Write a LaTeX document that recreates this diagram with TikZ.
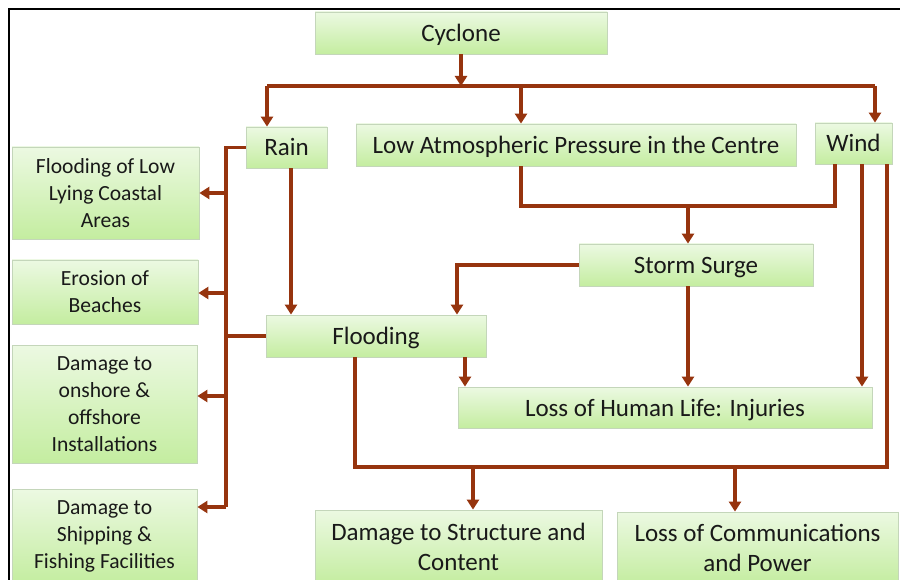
\documentclass[tikz,border=0pt]{standalone}
\usepackage{fontspec}
\setmainfont{Carlito}
\usetikzlibrary{arrows.meta}
\definecolor{arrowred}{RGB}{150,52,14}
\definecolor{boxtop}{RGB}{236,249,226}
\definecolor{boxbot}{RGB}{196,237,160}
\definecolor{boxline}{RGB}{196,214,186}
\definecolor{inkc}{RGB}{25,25,25}
\begin{document}
\begin{tikzpicture}[x=1pt,y=-1pt,
  box/.style={draw=boxline,line width=0.8pt,top color=boxtop,bottom color=boxbot,
    inner sep=0pt,align=center,text=inkc,font=\fontsize{25}{30}\selectfont},
  onebox/.style={box,text height=17pt,text depth=0pt},
  sidebox/.style={box,font=\fontsize{21.6}{27}\selectfont},
  ln/.style={draw=arrowred,line width=3.6pt},
  arr/.style={ln,-{Triangle[length=10pt,width=12pt]}}]
\useasboundingbox (0,0) rectangle (900,580);
\fill[white] (0,0) rectangle (900,580);
% frame
\draw[line width=1.8pt] (9,580) -- (9,9) -- (900,9);

% boxes
\node[onebox,minimum width=292,minimum height=42] (cyc) at (461,33) {Cyclone};
\node[onebox,minimum width=81,minimum height=41] (rain) at (286.5,147.5) {Rain};
\node[onebox,minimum width=440,minimum height=42] (lap) at (576,145) {Low Atmospheric Pressure in the Centre};
\node[onebox,minimum width=77,minimum height=41] (wind) at (853.5,143.5) {Wind};
\node[sidebox,minimum width=187,minimum height=92] (f1) at (105.5,193) {Flooding of Low\\Lying Coastal\\Areas};
\node[sidebox,minimum width=186,minimum height=64] (f2) at (105,292) {Erosion of\\Beaches};
\node[sidebox,minimum width=185,minimum height=118] (f3) at (104.5,404) {Damage to\\onshore \&\\offshore\\Installations};
\node[sidebox,minimum width=185,minimum height=94] (f4) at (104.5,536) {Damage to\\Shipping \&\\Fishing Facilities};
\node[onebox,minimum width=220,minimum height=42] (flood) at (376,336) {Flooding};
\node[onebox,minimum width=234,minimum height=42] (surge) at (696,265) {Storm Surge};
\node[onebox,minimum width=414,minimum height=41] (life) at (665,407.5) {Loss of Human Life: Injuries};
\node[box,minimum width=287,minimum height=74] (dsc) at (458.5,547) {Damage to Structure and\\Content};
\node[box,minimum width=281,minimum height=72] (lcp) at (757.5,548) {Loss of Communications\\and Power};

% junction points
\coordinate (bl) at (267,86);
\coordinate (bc) at (521,86);
\coordinate (br) at (875,86);
\coordinate (lx) at (226,507);
\coordinate (a1) at (226,193);
\coordinate (a2) at (226,293);
\coordinate (a3) at (226,396);
\coordinate (a4) at (226,507);
\coordinate (j) at (688,206);
\coordinate (k1) at (473,467);
\coordinate (k2) at (735,467);

% cyclone fan-out
\draw[arr] (cyc.south) -- (cyc.south |- bl);
\draw[ln] (bl) -- (br);
\draw[arr] (bl) -- (bl |- rain.north);
\draw[arr] (bc) -- (bc |- lap.north);
\draw[arr] (br) -- (br |- wind.north);

% rain and flooding to the coastal effects
\draw[ln] (rain.west) -- (rain.west -| lx) -- (lx);
\draw[ln] (flood.west) -- (flood.west -| lx);
\draw[arr] (a1) -- (a1 -| f1.east);
\draw[arr] (a2) -- (a2 -| f2.east);
\draw[arr] (a3) -- (a3 -| f3.east);
\draw[arr] (a4) -- (a4 -| f4.east);
\draw[arr] ([xshift=4.5]rain.south) -- ([xshift=4.5]rain.south |- flood.north);

% pressure and wind to storm surge
\draw[ln] ([xshift=-55]lap.south) |- (j) -| ([xshift=-18.5]wind.south);
\draw[arr] (j) -- (j |- surge.north);
\draw[arr] (surge.west) -| ([xshift=81]flood.north);
\draw[arr] (surge.south -| j) -- (j |- life.north);

% into loss of life
\draw[arr] ([xshift=89]flood.south) -- ([xshift=89]flood.south |- life.north);
\draw[arr] ([xshift=8.5]wind.south) -- ([xshift=8.5]wind.south |- life.north);

% wind and flooding to damage
\draw[ln] ([xshift=33.5]wind.south) |- (k2) -- (k1) -| ([xshift=-21]flood.south);
\draw[arr] (k1) -- (k1 |- dsc.north);
\draw[arr] (k2) -- (k2 |- lcp.north);
\end{tikzpicture}
\end{document}
